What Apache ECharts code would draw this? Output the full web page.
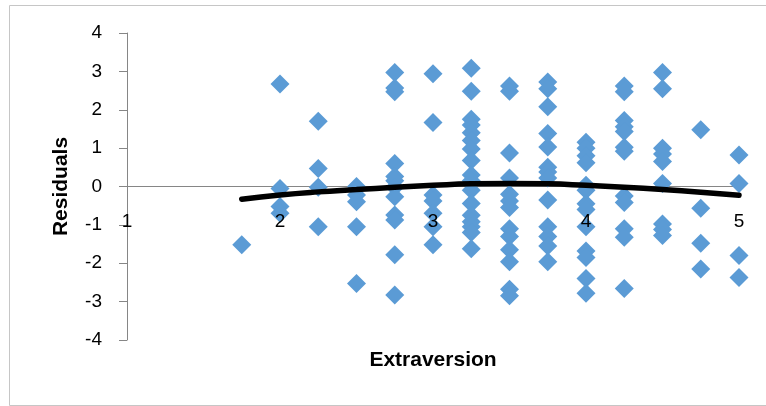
<!DOCTYPE html>
<html>
<head>
<meta charset="utf-8">
<script src="https://cdn.jsdelivr.net/npm/echarts@6/dist/echarts.min.js"></script>
<style>
html,body{margin:0;padding:0;background:#fff;}
#c{width:766px;height:406px;}
</style>
</head>
<body>
<div id="c"></div>
<script>
// Extraversion levels (x) and residuals read at each level (y)
const extraversionLevels = [1.75, 2, 2.25, 2.5, 2.75, 3, 3.25, 3.5, 3.75, 4, 4.25, 4.5, 4.75, 5];
const res175 = [-1.52];
const res200 = [2.67, -0.05, -0.52, -0.7];
const res225 = [1.7, 0.47, -0.02, -1.05];
const res250 = [0, -0.22, -0.4, -1.05, -2.53];
const res275 = [2.97, 2.57, 2.47, 0.6, 0.26, 0.15, -0.02, -0.27, -0.74, -0.87, -1.78, -2.83];
const res300 = [2.94, 1.67, -0.22, -0.38, -0.7, -1.05, -1.52];
const res325 = [3.08, 2.48, 1.75, 1.6, 1.4, 1.2, 0.98, 0.68, 0.3, 0.15, -0.1, -0.44, -0.75, -0.92, -1.05, -1.2, -1.62];
const res350 = [2.62, 2.48, 0.87, 0.22, -0.2, -0.38, -0.55, -1.1, -1.3, -1.65, -1.96, -2.68, -2.85];
const res375 = [2.72, 2.55, 2.08, 1.38, 1.03, 0.5, 0.38, 0.22, -0.35, -1.05, -1.3, -1.55, -1.96];
const res400 = [1.15, 1.0, 0.8, 0.62, 0.03, -0.1, -0.45, -0.6, -1.05, -1.68, -1.85, -2.4, -2.78];
const res425 = [2.62, 2.47, 1.72, 1.56, 1.43, 1.02, 0.92, -0.25, -0.42, -1.1, -1.32, -2.66];
const res450 = [2.97, 2.55, 1.0, 0.85, 0.65, 0.08, -0.98, -1.12, -1.28];
const res475 = [1.48, -0.57, -1.48, -2.15];
const res500 = [0.82, 0.08, -1.8, -2.37];
const residualColumns = [res175, res200, res225, res250, res275, res300, res325, res350, res375, res400, res425, res450, res475, res500];
// Trend line (polynomial) values read at each level
const trendValues = [-0.33, -0.22, -0.14, -0.08, -0.02, 0.03, 0.07, 0.08, 0.07, 0.03, -0.02, -0.08, -0.15, -0.23];
const xTicks = [1, 2, 3, 4, 5];
const yTicks = [-4, -3, -2, -1, 0, 1, 2, 3, 4];

const scatterData = [];
extraversionLevels.forEach((x, i) => residualColumns[i].forEach(v => scatterData.push([x, v])));
const trendData = extraversionLevels.map((x, i) => [x, trendValues[i]]);

const font = '"Liberation Sans", Arial, sans-serif';
const gridTop = 33, gridBottom = 66, H = 406;
const gridH = H - gridTop - gridBottom;
const zeroOffset = -gridH * (0 - yTicks[0]) / (yTicks[yTicks.length - 1] - yTicks[0]);
const xMin = xTicks[0], xMax = xTicks[xTicks.length - 1];
const chart = echarts.init(document.getElementById('c'), null, {renderer: 'canvas'});
chart.setOption({
  animation: false,
  backgroundColor: '#fff',
  graphic: [{
    type: 'rect', left: 7, top: 3, z: -10,
    shape: {x: 0, y: 0, width: 757, height: 400},
    style: {fill: 'none', stroke: '#c6c6c6', lineWidth: 1}
  }],
  grid: {left: 127, right: 27, top: gridTop, bottom: gridBottom, containLabel: false, outerBoundsMode: 'none'},
  xAxis: [{
    type: 'value', min: xMin, max: xMax, interval: 1,
    position: 'bottom', offset: zeroOffset,
    axisLine: {onZero: false, lineStyle: {color: '#868686', width: 1}},
    axisTick: {show: false},
    axisLabel: {show: false},
    splitLine: {show: false}
  }, {
    type: 'value', min: xMin, max: xMax, interval: 1, z: 20,
    position: 'bottom', offset: zeroOffset,
    name: 'Extraversion', nameLocation: 'middle', nameGap: 163,
    nameTextStyle: {fontFamily: font, fontSize: 21, fontWeight: 'bold', color: '#000'},
    axisLine: {show: false, onZero: false},
    axisTick: {show: false},
    axisLabel: {margin: 26, fontFamily: font, fontSize: 19, color: '#000'},
    splitLine: {show: false}
  }],
  yAxis: {
    type: 'value', min: yTicks[0], max: yTicks[yTicks.length - 1], interval: 1,
    name: 'Residuals', nameLocation: 'middle', nameGap: 55, nameRotate: 90,
    nameTextStyle: {fontFamily: font, fontSize: 21, fontWeight: 'bold', color: '#000'},
    axisLine: {show: true, lineStyle: {color: '#868686', width: 1}},
    axisTick: {show: true, inside: false, length: 8, lineStyle: {color: '#868686'}},
    axisLabel: {margin: 25, fontFamily: font, fontSize: 19, color: '#000'},
    splitLine: {show: false}
  },
  series: [{
    type: 'scatter', data: scatterData, symbol: 'diamond', symbolSize: 19, xAxisIndex: 0,
    itemStyle: {color: '#5B9BD5', opacity: 1}, z: 2
  }, {
    type: 'line', data: trendData, smooth: true, symbol: 'none', xAxisIndex: 0,
    lineStyle: {color: '#000', width: 5.5, cap: 'round'}, z: 5
  }]
});
</script>
</body>
</html>
